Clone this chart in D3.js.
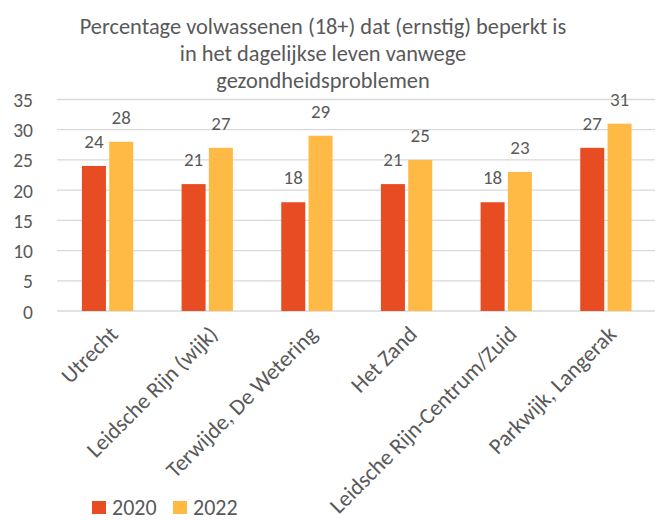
<!DOCTYPE html>
<html><head><meta charset="utf-8">
<script src="https://cdn.jsdelivr.net/npm/d3@7"></script>
<style>body{margin:0;background:#fff}svg{display:block}text{font-family:Carlito,Calibri,Lato,"Open Sans",sans-serif;fill:#595959}</style>
</head><body>
<script>
const categories = ["Utrecht","Leidsche Rijn (wijk)","Terwijde, De Wetering","Het Zand","Leidsche Rijn-Centrum/Zuid","Parkwijk, Langerak"];
const series = ["2020","2022"];
const values2020 = [24,21,18,21,18,27];
const values2022 = [28,27,29,25,23,31];
const yTicks = [0,5,10,15,20,25,30,35];
const titleLines = ["Percentage volwassenen (18+) dat (ernstig) beperkt is","in het dagelijkse leven vanwege","gezondheidsproblemen"];
const colors = ["#E84C22","#FFBA45"];

(function(){
const W=656,H=520;
const svg=d3.select("body").append("svg").attr("width",W).attr("height",H);
const mL=57,mR=655,mT=99.5,mB=311;
const x=d3.scaleBand().domain(categories).range([mL,mR]).paddingInner(0).paddingOuter(0);
const x1=d3.scaleBand().domain(series).range([x.bandwidth()*0.25,x.bandwidth()*0.765]).paddingInner(0.12);
const y=d3.scaleLinear().domain([0,35]).range([mB,mT]);

svg.append("g").selectAll("line").data(yTicks).join("line")
 .attr("x1",mL).attr("x2",mR).attr("y1",d=>y(d)).attr("y2",d=>y(d))
 .attr("stroke","#D9D9D9").attr("stroke-width",1.3);

const yAxis=svg.append("g").attr("transform",`translate(${mL-24},0)`)
 .call(d3.axisLeft(y).tickValues(yTicks).tickSize(0).tickPadding(0));
yAxis.select(".domain").remove();
yAxis.attr("font-family",null).attr("font-size",null);
yAxis.selectAll("text").style("font-size","19.5px").attr("fill","#595959").attr("dy","0.36em");

const data=categories.map((c,i)=>({c,v:[values2020[i],values2022[i]]}));
const g=svg.append("g").selectAll("g").data(data).join("g").attr("transform",d=>`translate(${x(d.c)},0)`);
g.selectAll("rect").data(d=>d.v.map((v,j)=>({s:series[j],v,j}))).join("rect")
 .attr("x",d=>x1(d.s)).attr("width",x1.bandwidth())
 .attr("y",d=>y(d.v)).attr("height",d=>y(0)-y(d.v))
 .attr("fill",d=>colors[d.j]);
g.selectAll("text.lbl").data(d=>d.v.map((v,j)=>({s:series[j],v,j}))).join("text").attr("class","lbl")
 .attr("x",d=>x1(d.s)+x1.bandwidth()/2).attr("y",d=>y(d.v)-18)
 .attr("text-anchor","middle").style("font-size","19px").text(d=>d.v);

svg.append("g").selectAll("text").data(categories).join("text")
 .attr("transform",d=>`translate(${x(d)+x.bandwidth()/2+7},${mB+19}) rotate(-45)`)
 .attr("text-anchor","end").attr("dy","0.35em").style("font-size","22.5px").text(d=>d);

svg.append("g").selectAll("text").data(titleLines).join("text")
 .attr("x",323).attr("y",(d,i)=>34+i*27).attr("text-anchor","middle")
 .style("font-size","22.4px").text(d=>d);

const lg=svg.append("g").selectAll("g").data(series).join("g")
 .attr("transform",(d,i)=>`translate(${92+i*81},501)`);
lg.append("rect").attr("width",14).attr("height",13).attr("fill",(d,i)=>colors[i]);
lg.append("text").attr("x",20).attr("y",14).style("font-size","22px").text(d=>d);
})();
</script>
</body></html>
